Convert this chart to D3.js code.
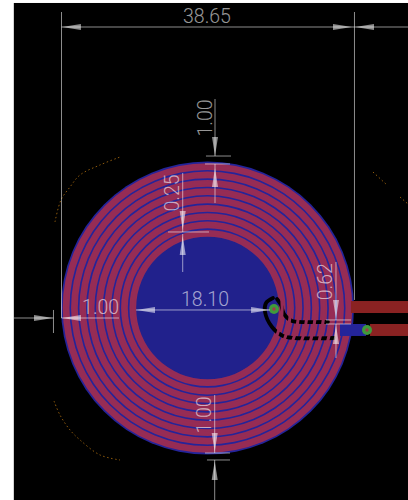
<!DOCTYPE html>
<html><head><meta charset="utf-8">
<script src="https://cdn.jsdelivr.net/npm/d3@7"></script>
<style>html,body{margin:0;padding:0;background:#fff;overflow:hidden}svg{display:block}</style>
</head><body>
<svg id="c" width="408" height="500"></svg>
<script>
// All geometry in millimetres, relative to the coil centre
const boardExtent = [[-25.55, -40.24], [26.45, 25.33]];
const coilOuterRadius = 19.325;
const traceOuterRadii = [19.1, 18.0, 16.9, 15.8, 14.7, 13.6, 12.5, 11.4, 10.3];
const traceWidth = 0.89;
const dimensionLines = [
  [-19.26,-37.07,26.45,-37.07],[-19.26,-39.05,-19.26,1.32],[19.39,-39.05,19.39,-1.06],
  [0.99,-27.57,0.99,-20.05],[-0.20,-20.05,3.10,-20.05],[-0.33,-19.0,2.97,-19.0],[0.99,-19.0,0.99,-13.85],
  [-3.27,-17.81,-3.27,-10.03],[-5.21,-10.03,0.2,-10.03],[-3.27,-9.76,-3.27,-4.75],
  [-9.43,0.26,8.25,0.26],
  [-25.53,1.32,-20.32,1.32],[-20.32,0.26,-20.32,3.30],[-19.26,1.32,-11.68,1.32],
  [16.95,-6.07,16.95,1.58],[15.63,1.58,18.93,1.58],[15.63,2.11,18.93,2.11],[16.95,2.11,16.95,6.60],
  [0.95,11.48,0.95,19.13],[-0.33,19.13,2.97,19.13],[-0.07,20.05,2.97,20.05],[0.95,20.05,0.95,25.33]
];
const dimensionArrows = [
  [-19.2,-37.07,-1,0],[19.06,-37.07,1,0],[19.46,-37.07,-1,0],
  [0.99,-20.05,0,1],[0.99,-18.47,0,-1],
  [-3.27,-10.29,0,1],[-3.27,-9.5,0,-1],
  [-9.43,0.26,-1,0],[8.25,0.26,1,0],
  [-20.38,1.32,1,0],[-19.2,1.32,-1,0],
  [16.95,1.45,0,1],[16.95,2.24,0,-1],
  [0.95,19.0,0,1],[0.95,20.18,0,-1]
];
const dimensionLabels = ["38.65","1.00","0.25","18.10","1.00","0.62","1.00"];
const labelX = [-0.07,0.59,-3.76,-0.33,-14.1,16.4,0.46];
const labelY = [-37.6,-25.07,-15.17,-0.25,0.79,-3.47,14.1];
const labelAngle = [0,-90,-90,0,0,-90,-90];
const trackEdgeA = [[8.64,-1.32],[7.72,-0.66],[7.59,0.53],[8.51,2.51],[9.96,3.69],[11.54,3.96],[16.69,3.96]];
const trackEdgeB = [[9.17,-1.19],[9.70,-0.40],[10.09,0.79],[11.15,1.72],[12.47,1.85],[15.9,1.85]];
const redPads = [[18.93,-0.92,26.45,0.66],[21.44,2.11,26.45,3.69]];
const bluePads = [[17.48,2.11,20.91,3.69]];
const vias = [[8.77,0.13],[21.04,2.90]];
const outlineArcs = [
  [[-20.12,-11.35],[-19.33,-14.25],[-18.14,-15.96],[-16.82,-17.55],[-14.18,-18.87],[-11.54,-19.92]],
  [[-20.25,12.27],[-19.46,14.12],[-18.14,16.09],[-16.82,17.41],[-14.18,19.39],[-11.54,20.05]],
  [[21.83,-17.94],[23.68,-16.23]],
  [[25.4,-14.64],[26.45,-13.72]]
];

const mm = 7.58;
const x = d3.scaleLinear().domain([0, 1]).range([207.5, 207.5 + mm]);
const y = d3.scaleLinear().domain([0, 1]).range([308, 308 + mm]);
const len = d3.scaleLinear().domain([0, 1]).range([0, mm]);
const svg = d3.select("#c");

svg.append("rect").attr("x", x(boardExtent[0][0])).attr("y", y(boardExtent[0][1]))
  .attr("width", x(boardExtent[1][0]) - x(boardExtent[0][0]))
  .attr("height", y(boardExtent[1][1]) - y(boardExtent[0][1])).attr("fill", "#000");

const line = d3.line().x(d => x(d[0])).y(d => y(d[1]));
svg.selectAll(".o").data(outlineArcs).join("path").attr("class","o")
  .attr("d", d => line.curve(d3.curveCatmullRom)(d)).attr("fill","none")
  .attr("stroke","#8f5a0c").attr("stroke-width",1).attr("stroke-dasharray","1.5 2.5");

// coil copper
svg.append("circle").attr("cx",x(0)).attr("cy",y(0)).attr("r",len(coilOuterRadius)).attr("fill","#24249a");
const arc = d3.arc();
const ringPath = w => r => arc({innerRadius:len(r-traceWidth/2-w/2),outerRadius:len(r-traceWidth/2+w/2),startAngle:0,endAngle:2*Math.PI});
svg.append("circle").attr("cx",x(0)).attr("cy",y(0)).attr("r",len(traceOuterRadii[8]-traceWidth)).attr("fill","#21218c");
svg.selectAll(".t").data(traceOuterRadii).join("path").attr("class","t")
  .attr("transform",`translate(${x(0)},${y(0)})`)
  .attr("d", ringPath(traceWidth)).attr("fill","#962c55");
// clearance around the bottom track, cut through the spiral
svg.selectAll(".e").data([trackEdgeA,trackEdgeB]).join("path").attr("class","e")
  .attr("d", d => line.curve(d3.curveCatmullRom)(d)).attr("fill","none")
  .attr("stroke","#000").attr("stroke-width",3.8).attr("stroke-linecap","round");
svg.selectAll(".tn").data(traceOuterRadii).join("path").attr("class","tn")
  .attr("transform",`translate(${x(0)},${y(0)})`)
  .attr("d", ringPath(0.4)).attr("fill","#962c55");

svg.selectAll(".bp").data(bluePads).join("rect").attr("class","bp")
  .attr("x",d=>x(d[0])).attr("y",d=>y(d[1])).attr("width",d=>len(d[2]-d[0])).attr("height",d=>len(d[3]-d[1])).attr("fill","#24249a");
svg.selectAll(".rp").data(redPads).join("rect").attr("class","rp")
  .attr("x",d=>x(d[0])).attr("y",d=>y(d[1])).attr("width",d=>len(d[2]-d[0])).attr("height",d=>len(d[3]-d[1])).attr("fill","#8a2222");
svg.selectAll(".v").data(vias).join("circle").attr("class","v")
  .attr("cx",d=>x(d[0])).attr("cy",d=>y(d[1])).attr("r",5).attr("fill","#3f9a3c");
svg.selectAll(".vh").data(vias).join("circle").attr("class","vh")
  .attr("cx",d=>x(d[0])).attr("cy",d=>y(d[1])).attr("r",1.7).attr("fill","#a03a4a");

// dimensions
const dimColor = "#fff", dimOpacity = 0.55;
svg.selectAll(".d").data(dimensionLines).join("line").attr("class","d")
  .attr("x1",d=>x(d[0])).attr("y1",d=>y(d[1])).attr("x2",d=>x(d[2])).attr("y2",d=>y(d[3]))
  .attr("stroke",dimColor).attr("stroke-opacity",dimOpacity).attr("stroke-width",1);
svg.selectAll(".a").data(dimensionArrows).join("path").attr("class","a")
  .attr("d", d => {
    const tx=x(d[0]), ty=y(d[1]), L=19, W=3;
    const bx=tx-d[2]*L, by=ty-d[3]*L;
    return `M${tx},${ty}L${bx+d[3]*W},${by+d[2]*W}L${bx-d[3]*W},${by-d[2]*W}Z`;
  })
  .attr("fill",dimColor).attr("fill-opacity",dimOpacity);
svg.selectAll(".l").data(dimensionLabels).join("text").attr("class","l")
  .attr("transform",(d,i)=>`translate(${x(labelX[i])},${y(labelY[i])}) rotate(${labelAngle[i]})`)
  .attr("text-anchor","middle").attr("font-family","Roboto, 'Liberation Sans', sans-serif")
  .attr("font-weight",300).attr("font-size",19.5)
  .attr("fill",dimColor).attr("fill-opacity",0.6).text(d=>d);
</script>
</body></html>
